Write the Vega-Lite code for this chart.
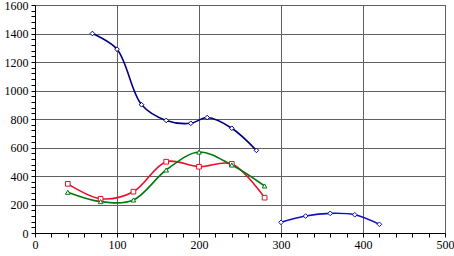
{
  "$schema": "https://vega.github.io/schema/vega-lite/v6.json",
  "width": 410,
  "height": 228,
  "autosize": "none",
  "padding": {"left": 35, "top": 5, "right": 9, "bottom": 23},
  "background": "white",
  "config": {
    "font": "Liberation Serif",
    "view": {"stroke": "#606060", "strokeWidth": 1},
    "axis": {"labelFont": "Liberation Serif", "labelFontSize": 12, "labelColor": "black", "domainColor": "black", "tickColor": "black", "gridColor": "#606060", "gridWidth": 1, "gridOpacity": 1}
  },
  "data": {"values": [
    {"series": "A", "x": 70, "y": 1400},
    {"series": "A", "x": 100, "y": 1290},
    {"series": "A", "x": 130, "y": 900},
    {"series": "A", "x": 160, "y": 790},
    {"series": "A", "x": 190, "y": 770},
    {"series": "A", "x": 210, "y": 810},
    {"series": "A", "x": 240, "y": 735},
    {"series": "A", "x": 270, "y": 580},
    {"series": "B", "x": 300, "y": 75},
    {"series": "B", "x": 330, "y": 119},
    {"series": "B", "x": 360, "y": 138},
    {"series": "B", "x": 390, "y": 128},
    {"series": "B", "x": 420, "y": 61},
    {"series": "C", "x": 40, "y": 345},
    {"series": "C", "x": 80, "y": 240},
    {"series": "C", "x": 120, "y": 290},
    {"series": "C", "x": 160, "y": 500},
    {"series": "C", "x": 200, "y": 465},
    {"series": "C", "x": 240, "y": 485},
    {"series": "C", "x": 280, "y": 248},
    {"series": "D", "x": 40, "y": 286},
    {"series": "D", "x": 80, "y": 220},
    {"series": "D", "x": 120, "y": 232},
    {"series": "D", "x": 160, "y": 442},
    {"series": "D", "x": 200, "y": 568},
    {"series": "D", "x": 240, "y": 477},
    {"series": "D", "x": 280, "y": 330}
  ]},
  "encoding": {
    "x": {"field": "x", "type": "quantitative", "scale": {"domain": [0, 500], "nice": false}, "axis": {
      "title": null, "format": "d",
      "values": [0,20,40,60,80,100,120,140,160,180,200,220,240,260,280,300,320,340,360,380,400,420,440,460,480,500],
      "labelExpr": "datum.value % 100 === 0 ? datum.label : ''",
      "gridOpacity": {"condition": {"test": "datum.value % 100 === 0", "value": 1}, "value": 0},
      "tickSize": 4, "labelPadding": 2, "labelFlush": false
    }},
    "y": {"field": "y", "type": "quantitative", "scale": {"domain": [0, 1600], "nice": false}, "axis": {
      "title": null, "format": "d",
      "values": [0,40,80,120,160,200,240,280,320,360,400,440,480,520,560,600,640,680,720,760,800,840,880,920,960,1000,1040,1080,1120,1160,1200,1240,1280,1320,1360,1400,1440,1480,1520,1560,1600],
      "labelExpr": "datum.value % 200 === 0 ? datum.label : ''",
      "gridOpacity": {"condition": {"test": "datum.value % 200 === 0", "value": 1}, "value": 0},
      "tickSize": 4, "labelPadding": 3, "labelFlush": false
    }},
    "color": {"field": "series", "type": "nominal", "legend": null, "scale": {"domain": ["A", "B", "C", "D"], "range": ["#000080", "#1010c0", "#e8102a", "#007a10"]}},
    "detail": {"field": "series"}
  },
  "layer": [
    {"mark": {"type": "line", "interpolate": "catmull-rom", "strokeWidth": 1.6}},
    {"mark": {"type": "point", "filled": true, "fill": "white", "strokeWidth": 1, "size": 22, "opacity": 1},
     "encoding": {"shape": {"field": "series", "type": "nominal", "legend": null, "scale": {"domain": ["A", "B", "C", "D"], "range": ["diamond", "diamond", "square", "triangle-up"]}}, "stroke": {"field": "series", "type": "nominal", "legend": null, "scale": {"domain": ["A", "B", "C", "D"], "range": ["#000080", "#1010c0", "#e8102a", "#007a10"]}}}}
  ]
}
